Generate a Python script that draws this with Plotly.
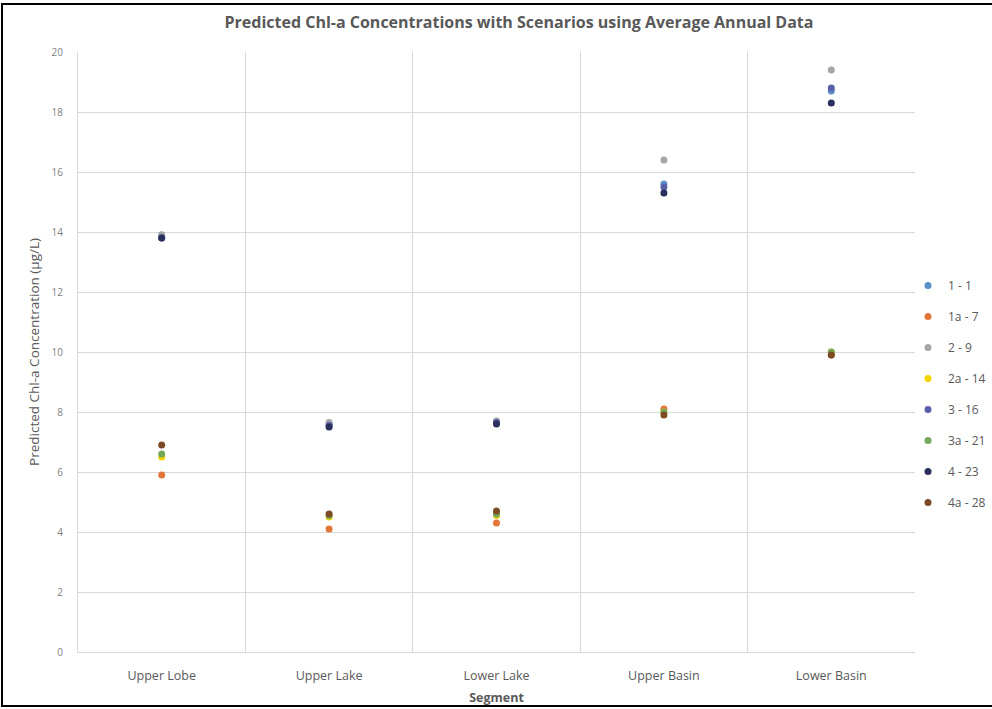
import plotly.graph_objects as go

categories = ["Upper Lobe", "Upper Lake", "Lower Lake", "Upper Basin", "Lower Basin"]

s_1_1 = [13.9, 7.60, 7.65, 15.6, 18.7]
s_1a_7 = [5.9, 4.10, 4.30, 8.1, 9.9]
s_2_9 = [13.9, 7.65, 7.70, 16.4, 19.4]
s_2a_14 = [6.5, 4.50, 4.55, 8.0, 10.0]
s_3_16 = [13.8, 7.55, 7.65, 15.5, 18.8]
s_3a_21 = [6.6, 4.55, 4.60, 8.0, 10.0]
s_4_23 = [13.8, 7.50, 7.60, 15.3, 18.3]
s_4a_28 = [6.9, 4.60, 4.70, 7.9, 9.9]

series_names = ["1 - 1", "1a - 7", "2 - 9", "2a - 14", "3 - 16", "3a - 21", "4 - 23", "4a - 28"]
series_values = [s_1_1, s_1a_7, s_2_9, s_2a_14, s_3_16, s_3a_21, s_4_23, s_4a_28]
series_colors = ["#5b8fc7", "#e2773a", "#a5a5a5", "#f2d100", "#5a5fa8", "#74a85a", "#2b2f5c", "#7d4a26"]

fig = go.Figure()
for i, (name, vals, col) in enumerate(zip(series_names, series_values, series_colors)):
    fig.add_trace(go.Scatter(
        x=categories, y=vals, mode="markers", name=name,
        legendgroup=f"g{i}",
        marker=dict(color=col, size=7, line=dict(width=0)),
    ))

W, H = 992, 709
L, R, T, B = 78, 77, 52, 57
pw, ph = W - L - R, H - T - B

fig.update_layout(
    width=W, height=H,
    margin=dict(l=L, r=R, t=T, b=B, autoexpand=False),
    paper_bgcolor="white", plot_bgcolor="white",
    font=dict(family="Open Sans, Liberation Sans, sans-serif", color="#595959"),
    title=dict(text="<b>Predicted Chl-a Concentrations with Scenarios using Average Annual Data</b>",
               x=519 / W, xanchor="center", y=1 - 22 / H, yanchor="middle", yref="container",
               font=dict(size=16, color="#595959")),
    xaxis=dict(type="category", tickson="boundaries", showgrid=True, gridcolor="#d9d9d9",
               gridwidth=1, ticks="", range=[-0.5, 4.5], tickfont=dict(size=12.5, color="#595959"),
               ticklabelstandoff=12,
               title=dict(text="<b>Segment</b>", font=dict(size=12.5, color="#595959"), standoff=10),
               showline=True, linecolor="#d9d9d9", zeroline=False, automargin=False),
    yaxis=dict(range=[0, 20], dtick=2, showgrid=True, gridcolor="#d9d9d9", gridwidth=1,
               tickfont=dict(size=10, color="#7f7f7f"), ticks="", ticklabelstandoff=12,
               title=dict(text="Predicted Chl-a Concentration (µg/L)", font=dict(size=13.5, color="#595959"), standoff=8),
               showline=True, linecolor="#d9d9d9", zeroline=False, automargin=False),
    legend=dict(x=(908 - L) / pw, xanchor="left", y=(652 - 394) / ph, yanchor="middle",
                font=dict(size=12, color="#595959"), tracegroupgap=12, itemsizing="trace",
                bgcolor="rgba(0,0,0,0)"),
    showlegend=True,
)

fig.add_shape(type="rect", xref="paper", yref="paper",
              x0=(2 - L) / pw, x1=(1000 - L) / pw,
              y0=(652 - 706) / ph, y1=(652 - 4) / ph,
              line=dict(color="black", width=2), fillcolor="rgba(0,0,0,0)", layer="above")

fig.write_html("out.html", config={"displayModeBar": False},
               post_script="document.body.style.margin='0';document.body.style.overflow='hidden';")
